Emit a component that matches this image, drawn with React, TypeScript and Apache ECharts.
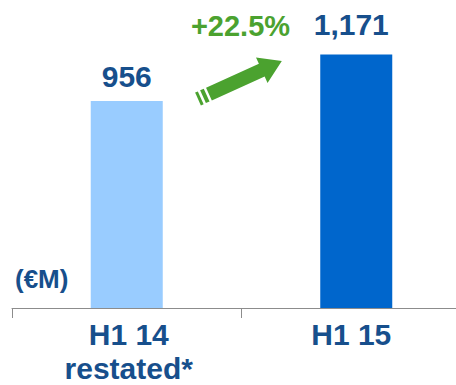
import React, { useEffect, useRef } from "react";
import * as echarts from "echarts";

const categories = ["H1 14\nrestated*", "H1 15"];
const values = [956, 1171];
const barColors = ["#99ccff", "#0066cc"];
const growthLabel = "+22.5%";
const unitLabel = "(€M)";

const FONT = "'Liberation Sans', Arial, Helvetica, sans-serif";
const TEXT_BLUE = "#174f8c";
const GREEN = "#4ba22f";

export default function App() {
  const ref = useRef<HTMLDivElement>(null);
  useEffect(() => {
    if (!ref.current) return;
    const chart = echarts.init(ref.current, null, { renderer: "svg" });
    const labelDistances = [10, 15];
    const labelShift = [2, -5];
    const arrowAngle = (24.3 * Math.PI) / 180;
    chart.setOption({
      animation: false,
      grid: { left: 12, width: 459, top: 5, bottom: 74 },
      xAxis: {
        type: "category",
        data: categories.map((c, i) => ({
          value: c,
          textStyle: {
            padding: labelShift[i] > 0 ? [0, 0, 0, labelShift[i] * 2] : [0, -labelShift[i] * 2, 0, 0],
          },
        })),
        axisLine: { show: true, lineStyle: { color: "#8c8c8c", width: 1 } },
        axisTick: { show: true, length: 10, lineStyle: { color: "#8c8c8c" } },
        axisLabel: {
          color: TEXT_BLUE,
          fontFamily: FONT,
          fontWeight: "bold",
          fontSize: 30,
          lineHeight: 34,
          margin: 9,
          interval: 0,
        },
      },
      yAxis: { type: "value", min: 0, max: 1400, show: false, splitLine: { show: false } },
      series: [
        {
          type: "bar",
          barWidth: 72,
          data: values.map((v, i) => ({
            value: v,
            itemStyle: { color: barColors[i] },
            label: { distance: labelDistances[i], offset: [labelShift[i] < 0 ? labelShift[i] : 0, 0] },
          })),
          label: {
            show: true,
            position: "top",
            color: TEXT_BLUE,
            fontFamily: FONT,
            fontWeight: "bold",
            fontSize: 30,
            formatter: (p: any) => Number(p.value).toLocaleString("en-US"),
          },
        },
      ],
      graphic: [
        {
          type: "text",
          left: 15,
          top: 266,
          style: {
            text: unitLabel,
            fill: TEXT_BLUE,
            font: `bold 26px ${FONT}`,
          },
        },
        {
          type: "text",
          x: 240.5,
          y: 26,
          style: {
            text: growthLabel,
            fill: GREEN,
            font: `bold 29px ${FONT}`,
            align: "center",
            verticalAlign: "middle",
          },
        },
        {
          type: "group",
          x: 198,
          y: 99,
          rotation: arrowAngle,
          children: [
            { type: "rect", shape: { x: 0, y: -7, width: 3, height: 14 }, style: { fill: GREEN } },
            { type: "rect", shape: { x: 5.5, y: -7, width: 4, height: 14 }, style: { fill: GREEN } },
            {
              type: "polygon",
              shape: {
                points: [
                  [12, -7],
                  [70, -7],
                  [70, -14],
                  [92, 0],
                  [70, 14],
                  [70, 7],
                  [12, 7],
                ],
              },
              style: { fill: GREEN },
            },
          ],
        },
      ],
    });
    return () => chart.dispose();
  }, []);
  return (
    <div
      style={{
        position: "fixed",
        left: 0,
        top: 0,
        width: 456,
        height: 385,
        overflow: "hidden",
        background: "#fff",
      }}
    >
      <div ref={ref} style={{ width: 480, height: 385 }} />
    </div>
  );
}
